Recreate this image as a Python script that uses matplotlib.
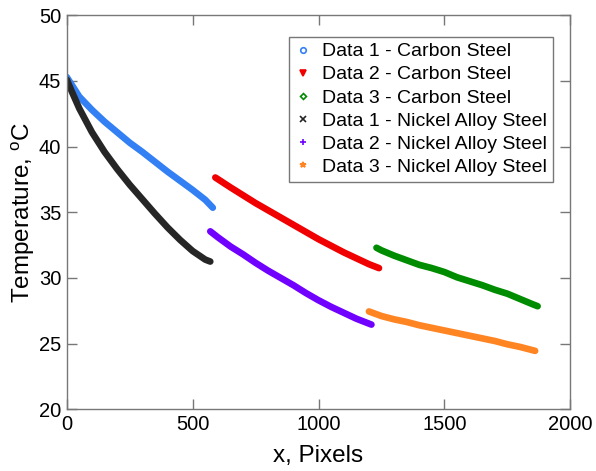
import matplotlib
matplotlib.use('Agg')
import matplotlib.pyplot as plt
from matplotlib.lines import Line2D

plt.rcParams['font.family'] = ['Liberation Sans', 'DejaVu Sans']
plt.rcParams['mathtext.fontset'] = 'custom'
plt.rcParams['mathtext.rm'] = 'Liberation Sans'

# values
x_cs1 = [0, 50, 100, 150, 200, 250, 300, 350, 400, 450, 500, 550, 580]
y_cs1 = [45.3, 43.8, 42.8, 41.9, 41.1, 40.3, 39.6, 38.85, 38.1, 37.4, 36.7, 35.95, 35.35]

x_cs2 = [590, 650, 700, 750, 800, 850, 900, 950, 1000, 1050, 1100, 1150, 1200, 1240]
y_cs2 = [37.65, 36.9, 36.3, 35.7, 35.15, 34.6, 34.05, 33.5, 32.95, 32.45, 31.95, 31.5, 31.05, 30.75]

x_cs3 = [1230, 1250, 1300, 1350, 1400, 1450, 1500, 1550, 1600, 1650, 1700, 1750, 1800, 1850, 1870]
y_cs3 = [32.3, 32.1, 31.7, 31.35, 31.0, 30.75, 30.45, 30.05, 29.75, 29.45, 29.1, 28.8, 28.4, 28.0, 27.85]

x_ns1 = [0, 20, 50, 100, 150, 200, 250, 300, 350, 400, 450, 500, 550, 570]
y_ns1 = [45.1, 44.2, 42.9, 41.1, 39.6, 38.3, 37.1, 36.0, 34.9, 33.85, 32.9, 32.05, 31.4, 31.25]

x_ns2 = [570, 600, 650, 700, 750, 800, 850, 900, 950, 1000, 1050, 1100, 1150, 1210]
y_ns2 = [33.55, 33.1, 32.4, 31.8, 31.15, 30.55, 30.0, 29.45, 28.85, 28.3, 27.8, 27.35, 26.9, 26.45]

x_ns3 = [1200, 1250, 1300, 1350, 1400, 1450, 1500, 1550, 1600, 1650, 1700, 1750, 1800, 1860]
y_ns3 = [27.45, 27.1, 26.85, 26.65, 26.4, 26.2, 26.0, 25.8, 25.6, 25.4, 25.2, 24.95, 24.75, 24.45]

labels = ['Data 1 - Carbon Steel', 'Data 2 - Carbon Steel', 'Data 3 - Carbon Steel',
          'Data 1 - Nickel Alloy Steel', 'Data 2 - Nickel Alloy Steel', 'Data 3 - Nickel Alloy Steel']
colors = ['#3380f5', '#f00000', '#008c00', '#262626', '#7000ff', '#ff8422']
markers = ['o', 'v', 'D', 'x', '+', '*']

series = [(x_cs1, y_cs1), (x_cs2, y_cs2), (x_cs3, y_cs3),
          (x_ns1, y_ns1), (x_ns2, y_ns2), (x_ns3, y_ns3)]

fig = plt.figure(figsize=(5.96, 4.71), dpi=100)
ax = fig.add_axes([0.112, 0.131, 0.845, 0.8365])

for (xs, ys), c in zip(series, colors):
    ax.plot(xs, ys, color=c, lw=4.8, solid_capstyle='round', solid_joinstyle='round')

ax.set_xlim(0, 2000)
ax.set_ylim(20, 50)
ax.set_xticks([0, 500, 1000, 1500, 2000])
ax.set_yticks([20, 25, 30, 35, 40, 45, 50])
ax.tick_params(direction='in', length=7, width=1, color='#777777', labelsize=14.5,
               top=True, right=True, pad=4)
for s in ax.spines.values():
    s.set_color('#777777')
    s.set_linewidth(1)

ax.set_xlabel('x, Pixels', fontsize=17.5, labelpad=8)
ax.set_ylabel('Temperature, $\\mathregular{^{o}}$C', fontsize=17.5, labelpad=1)

handles = []
for c, m in zip(colors, markers):
    fc = 'none' if m in ('o', 'D') else c
    ms = 3 if m == 'D' else 4
    handles.append(Line2D([], [], ls='none', marker=m, color=c, mfc=fc, ms=ms, mew=1.2))
leg = ax.legend(handles, labels, loc='upper right', bbox_to_anchor=(0.9653, 0.945),
                borderaxespad=0, fontsize=14, handlelength=0.8, handletextpad=0.6,
                labelspacing=0.28, borderpad=0.3, fancybox=False, framealpha=1)
leg.get_frame().set_edgecolor('#777777')
leg.get_frame().set_linewidth(1)

fig.savefig('out.png', dpi=100)
